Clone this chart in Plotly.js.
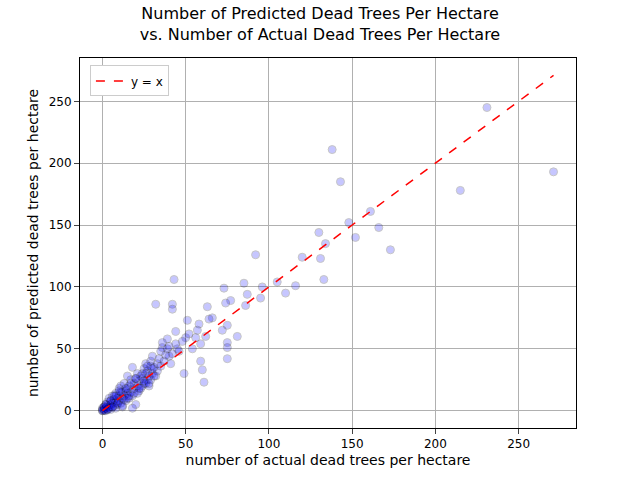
<!DOCTYPE html>
<html><head><script src="https://cdn.plot.ly/plotly-3.0.1.min.js"></script></head>
<body style="margin:0">
<div id="c" style="width:640px;height:480px"></div>
<script>
const actual = [271,231,215,138,143,148,161,166,173,152,134,131,130,133,120,116,110,105,96,95,92,85,87,86,81,75,75,75,73,77,74,75,72,66,63,64,58,57,62,59,59,60,61,50,49,43,42,42,32,44,39,36,40,45,51,56,
 0,0,0,0,1,1,1,2,2,2,3,3,3,4,4,4,5,5,5,6,6,6,7,7,8,8,8,9,9,10,10,10,11,11,12,12,12,13,13,14,14,15,15,15,16,16,17,17,18,18,19,19,20,20,21,21,22,22,23,24,24,25,25,26,26,27,27,28,28,29,29,30,30,31,32,33,33,34,35,35,36,37,38,39,40,41,42,44,46,48,52,54,
 1,2,3,5,6,8,9,11,13,14,16,17,19,20,22,24,26,27,29,31,12,18,21,23,25,28,30,15,10,7];
const predicted = [193,245,178,211,185,152,161,148,130,140,135,123,144,106,124,101,95,104,100,91,126,103,94,85,60,55,42,51,99,89,87,69,65,75,84,74,70,65,60,54,40,33,23,59,30,106,86,82,86,64,58,51,44,50,73,59,
 0,1,2,0,0,3,1,2,5,0,4,1,7,3,10,2,5,8,1,6,12,3,4,9,7,14,2,10,5,8,18,12,6,20,10,15,3,12,22,8,16,14,28,18,10,20,15,25,12,35,18,22,5,26,20,30,16,24,28,20,26,34,22,30,38,25,32,28,20,36,40,30,44,35,28,38,32,42,48,36,55,40,45,50,52,38,46,54,48,56,62,50,
 3,5,1,8,3,12,6,15,9,18,12,22,14,26,18,30,22,36,25,28,4,2,14,18,24,22,34,10,16,12];
const lineX = [0, 271];
Plotly.newPlot('c', [
 {x: actual, y: predicted, mode:'markers', type:'scatter', showlegend:false,
  marker:{size:8, color:'blue', opacity:0.22, line:{color:'black', width:1}}},
 {x: lineX, y: lineX, mode:'lines', name:'y = x', line:{color:'red', dash:'dash', width:1.5}}
], {
 width:640, height:480, margin:{l:80,r:64,t:58,b:52},
 paper_bgcolor:'white', plot_bgcolor:'white',
 font:{family:'DejaVu Sans', size:12, color:'black'},
 title:{text:'Number of Predicted Dead Trees Per Hectare<br>vs. Number of Actual Dead Trees Per Hectare', x:0.5, y:0.96, font:{size:16}},
 xaxis:{title:{text:'number of actual dead trees per hectare', standoff:4}, range:[-13.5,284.5], tickvals:[0,50,100,150,200,250], showgrid:true, gridcolor:'#b0b0b0', zeroline:false, showline:true, mirror:true, linecolor:'black', ticks:'outside'},
 yaxis:{title:{text:'number of predicted dead trees per hectare', standoff:6}, range:[-14,285], tickvals:[0,50,100,150,200,250], showgrid:true, gridcolor:'#b0b0b0', zeroline:false, showline:true, mirror:true, linecolor:'black', ticks:'outside'},
 legend:{x:0.02, y:0.98, bordercolor:'#ccc', borderwidth:1, bgcolor:'white'}
}, {displayModeBar:false});
</script></body></html>
